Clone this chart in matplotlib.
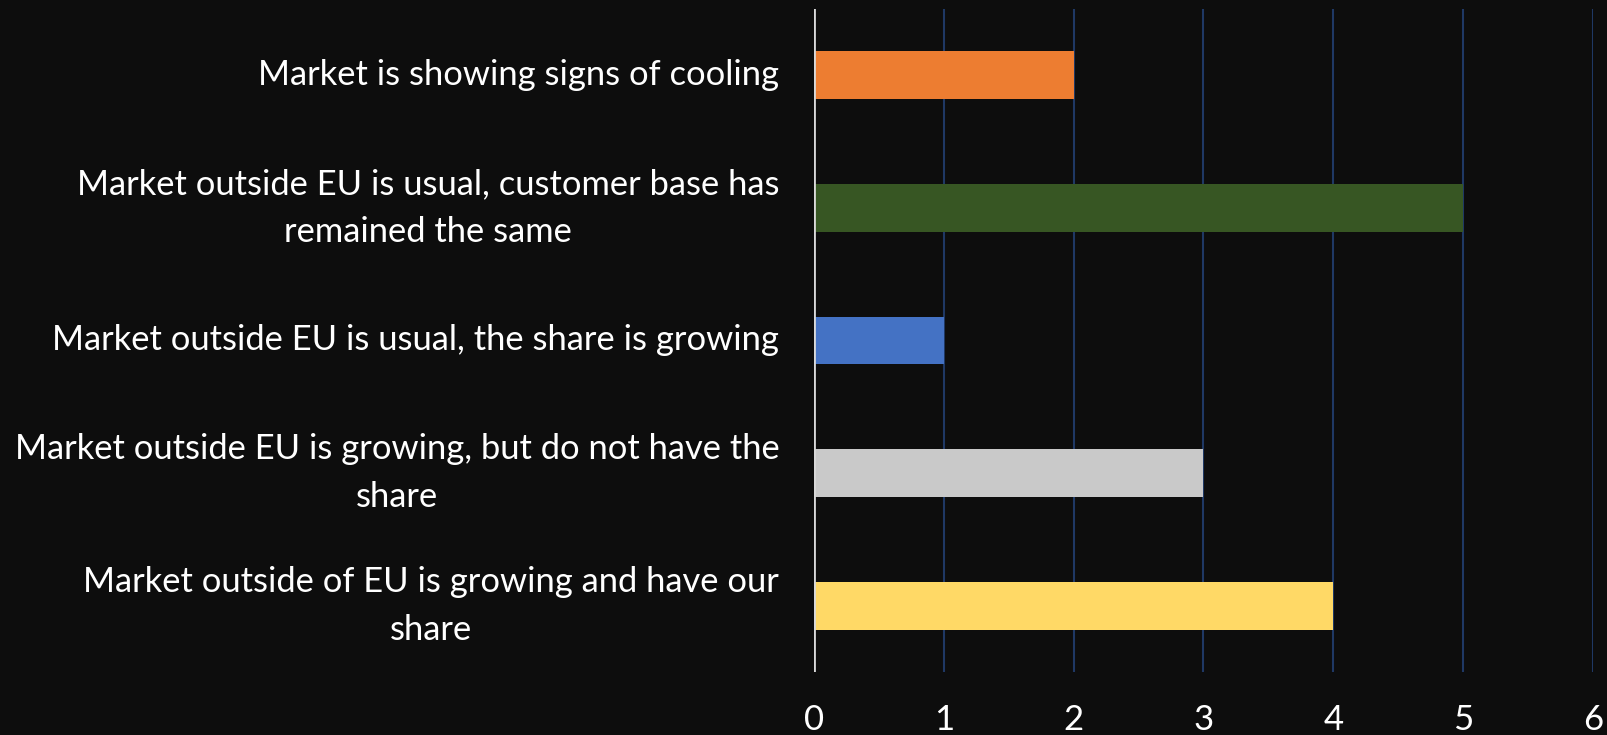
import numpy as np
import matplotlib.pyplot as plt

categories = [
    "Market outside of EU is growing and have our\nshare",
    "Market outside EU is growing, but do not have the\nshare",
    "Market outside EU is usual, the share is growing",
    "Market outside EU is usual, customer base has\nremained the same",
    "Market is showing signs of cooling",
]
values = [4, 3, 1, 5, 2]
colors = ["#FFD966", "#C9C9C9", "#4472C4", "#375623", "#ED7D31"]
xticks = [0, 1, 2, 3, 4, 5, 6]

bg = "#0D0D0D"
plt.rcParams["font.family"] = ["Lato", "DejaVu Sans"]

fig = plt.figure(figsize=(16.08, 7.35), dpi=100, facecolor=bg)
ax = fig.add_axes([814 / 1608, 1 - 672 / 735, (1593 - 814) / 1608, (672 - 9) / 735])
ax.set_facecolor(bg)

y = np.arange(len(categories))
ax.barh(y, values, height=0.36, color=colors, zorder=3)

ax.set_xlim(0, 6)
ax.set_ylim(-0.5, len(categories) - 0.5)
ax.set_xticks(xticks)
ax.set_xticklabels([str(t) for t in xticks], fontsize=25, color="white")
ax.set_yticks(y)
ax.set_yticklabels(categories, fontsize=24.8, color="white", multialignment="center",
                   linespacing=1.6, va="center")
ax.tick_params(axis="both", length=0)
ax.tick_params(axis="x", pad=23)
ax.tick_params(axis="y", pad=25)

ax.grid(axis="x", color="#1F3864", linewidth=1.5, zorder=0)
ax.axvline(0, color="#D9D9D9", linewidth=2, zorder=4)
for s in ax.spines.values():
    s.set_visible(False)

fig.savefig("out.png", dpi=100, facecolor=bg)
